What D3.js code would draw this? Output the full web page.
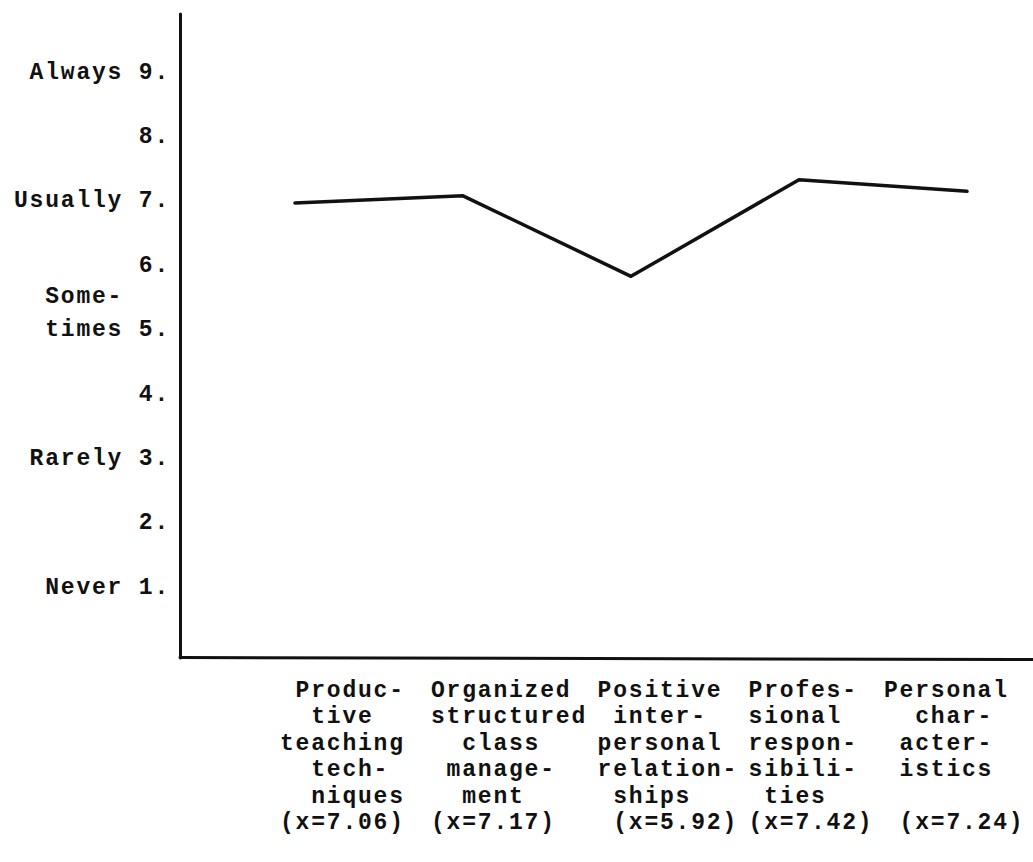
<!DOCTYPE html>
<html>
<head>
<meta charset="utf-8">
<script src="https://cdn.jsdelivr.net/npm/d3@7"></script>
<style>
  html, body { margin: 0; padding: 0; background: #fff; }
  svg { display: block; }
  text {
    font-family: "Courier New", "Liberation Mono", monospace;
    font-weight: bold;
    font-size: 23px;
    letter-spacing: 1.8px;
    fill: #111;
    white-space: pre;
  }
</style>
</head>
<body>
<div id="chart"></div>
<script>
// Data
const categories = ["Productive", "Organized", "Positive", "Professional", "Personal"];
const means = [7.06, 7.17, 5.92, 7.42, 7.24];

// Category labels as typed, line by line (leading spaces = typewriter indent)
const categoryLines = [
    [" Produc-", "  tive", "teaching", "  tech-", "  niques", "(x=7.06)"],
    ["Organized", "structured", "  class", " manage-", "  ment", "(x=7.17)"],
    [" Positive", "  inter-", " personal", " relation-", "  ships", "  (x=5.92)"],
    [" Profes-", " sional", " respon-", " sibili-", "  ties", " (x=7.42)"],
    ["Personal", "  char-", " acter-", " istics", "", " (x=7.24)"]
];

// Rating scale
const scaleTicks = [1, 2, 3, 4, 5, 6, 7, 8, 9];
const scaleWords = ["Never", "", "Rarely", "", "times", "", "Usually", "", "Always"];
const scaleWordAbove = { 5: "Some-" };

const width = 1033, height = 862;
const charW = 15.6;   // typewriter pitch
const lineH = 26.4;

const svg = d3.select("#chart").append("svg")
    .attr("width", width)
    .attr("height", height);

const y = d3.scaleLinear().domain([0, 10]).range([657.6, 13.6]);
const x = d3.scalePoint().domain(categories).range([295, 967]);
const labelX = d3.scalePoint().domain(categories).range([280, 884]);

const axisX = 180;

// Y axis (domain line is the vertical rule)
const yAxis = d3.axisLeft(y)
    .tickValues(scaleTicks)
    .tickSize(0)
    .tickSizeOuter(0)
    .tickPadding(10)
    .tickFormat((d, i) => (scaleWords[i] ? scaleWords[i] + " " : "") + d + ".");

const gy = svg.append("g")
    .attr("transform", `translate(${axisX},0)`)
    .call(yAxis);

gy.select(".domain")
    .attr("stroke", "#111")
    .attr("stroke-width", 3)
    .attr("stroke-linecap", "round");

gy.selectAll(".tick text")
    .attr("dy", 0)
    .attr("fill", "#111")
    .style("font-family", null)
    .style("font-size", null);
gy.attr("font-family", null).attr("font-size", null);

// extra word line above "times"
Object.entries(scaleWordAbove).forEach(([v, word]) => {
    gy.append("text")
        .attr("x", -10 - 3 * charW)
        .attr("y", y(+v) - 33)
        .attr("text-anchor", "end")
        .text(word);
});

// X axis rule at 0
svg.append("line")
    .attr("x1", axisX).attr("x2", width)
    .attr("y1", y(0)).attr("y2", y(0) + 2)
    .attr("stroke", "#111")
    .attr("stroke-width", 3)
    .attr("stroke-linecap", "round");

// Mean profile line
const line = d3.line()
    .x((d, i) => x(categories[i]))
    .y(d => y(d));

svg.append("path")
    .datum(means)
    .attr("d", line)
    .attr("fill", "none")
    .attr("stroke", "#111")
    .attr("stroke-width", 3.5)
    .attr("stroke-linejoin", "round")
    .attr("stroke-linecap", "round");

// Category labels
const cols = svg.append("g").selectAll("text")
    .data(categories)
    .join("text")
    .attr("text-anchor", "start");

cols.selectAll("tspan")
    .data((d, i) => categoryLines[i].map(t => ({ t, c: d })))
    .join("tspan")
    .attr("x", d => labelX(d.c))
    .attr("y", (d, j) => 697 + j * lineH)
    .text(d => d.t);
</script>
</body>
</html>
